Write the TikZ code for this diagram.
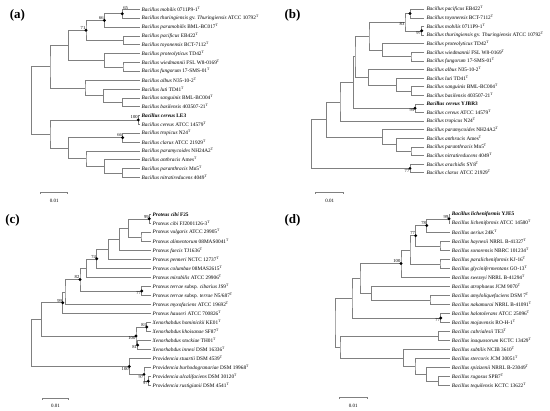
\documentclass[tikz,border=0pt]{standalone}
\usepackage{fontspec}
\setmainfont{Liberation Serif}
\usepackage{tikz}

\begin{document}
\begin{tikzpicture}[
    x=1pt, y=-1pt,
    branch/.style={draw=black!50, line width=0.5pt},
    leaf/.style={anchor=west, inner xsep=2pt, inner ysep=0pt, font=\fontsize{5.3}{6}\selectfont},
    boot/.style={anchor=south east, inner sep=0.5pt, font=\fontsize{4.6}{5}\selectfont},
    bootlow/.style={anchor=north east, inner sep=0.5pt, font=\fontsize{4.6}{5}\selectfont},
    support/.style={fill=black},
    panel/.style={font=\fontsize{13}{15}\selectfont\bfseries},
    scaletext/.style={font=\fontsize{5}{6}\selectfont}
]
\useasboundingbox (0,0) rectangle (550,411);

% Panel (a)
\node[panel] (pa) at (17.5,15) {(a)};
\node[leaf] (a1) at (139.5,9.30) {\textit{Bacillus mobilis} 0711P9-1\textsuperscript{T}};
\node[leaf] (a2) at (139.5,18.15) {\textit{Bacillus thuringiensis} gv. \textit{Thuringiensis} ATCC 10792\textsuperscript{T}};
\node[leaf] (a3) at (139.5,27.00) {\textit{Bacillus paramobilis} BML-BC017\textsuperscript{T}};
\node[leaf] (a4) at (139.5,35.85) {\textit{Bacillus pacificus} EB422\textsuperscript{T}};
\node[leaf] (a5) at (139.5,44.70) {\textit{Bacillus toyonensis} BCT-7112\textsuperscript{T}};
\node[leaf] (a6) at (139.5,53.55) {\textit{Bacillus proteolyticus} TD42\textsuperscript{T}};
\node[leaf] (a7) at (139.5,62.40) {\textit{Bacillus wiedmannii} FSL W8-0169\textsuperscript{T}};
\node[leaf] (a8) at (139.5,71.25) {\textit{Bacillus fungorum} 17-SMS-01\textsuperscript{T}};
\node[leaf] (a9) at (139.5,80.10) {\textit{Bacillus albus} N35-10-2\textsuperscript{T}};
\node[leaf] (a10) at (139.5,88.95) {\textit{Bacillus luti} TD41\textsuperscript{T}};
\node[leaf] (a11) at (139.5,97.80) {\textit{Bacillus sanguinis} BML-BC004\textsuperscript{T}};
\node[leaf] (a12) at (139.5,106.65) {\textit{Bacillus basilensis} 403507-21\textsuperscript{T}};
\node[leaf] (a13) at (139.5,115.50) {\textbf{\textit{Bacillus cereus} LE3}};
\node[leaf] (a14) at (139.5,124.35) {\textit{Bacillus cereus} ATCC 14579\textsuperscript{T}};
\node[leaf] (a15) at (139.5,133.20) {\textit{Bacillus tropicus} N24\textsuperscript{T}};
\node[leaf] (a16) at (139.5,142.05) {\textit{Bacillus clarus} ATCC 21929\textsuperscript{T}};
\node[leaf] (a17) at (139.5,150.90) {\textit{Bacillus paramycoides} NH24A2\textsuperscript{T}};
\node[leaf] (a18) at (139.5,159.75) {\textit{Bacillus anthracis} Ames\textsuperscript{T}};
\node[leaf] (a19) at (139.5,168.60) {\textit{Bacillus paranthracis} Mn5\textsuperscript{T}};
\node[leaf] (a20) at (139.5,177.45) {\textit{Bacillus nitratireducens} 4049\textsuperscript{T}};

\coordinate (aN1) at (122.3,13.73);
\coordinate (aN2) at (104.3,20.36);
\coordinate (aN3) at (123.3,40.28);
\coordinate (aN4) at (86,30.32);
\coordinate (aN5) at (123,66.83);
\coordinate (aN6) at (104.3,60.19);
\coordinate (aN7) at (68.3,45.26);
\coordinate (aN8) at (122.7,102.23);
\coordinate (aN9) at (103.3,95.59);
\coordinate (aN10) at (85,87.85);
\coordinate (aN11) at (50,66.56);
\coordinate (aN12) at (138.3,119.93);
\coordinate (aN13) at (122.7,137.63);
\coordinate (aN14) at (122.7,173.03);
\coordinate (aN15) at (104.3,166.39);
\coordinate (aN16) at (86,158.65);
\coordinate (aN17) at (68.3,148.14);
\coordinate (aN18) at (50,134.04);
\coordinate (aN19) at (31.7,100.3);

\draw[branch] (a1.west) -| (aN1) |- (a2.west);
\draw[branch] (aN1) -| (aN2) |- (a3.west);
\draw[branch] (a4.west) -| (aN3) |- (a5.west);
\draw[branch] (aN2) -| (aN4) |- (aN3);
\draw[branch] (a7.west) -| (aN5) |- (a8.west);
\draw[branch] (a6.west) -| (aN6) |- (aN5);
\draw[branch] (aN4) -| (aN7) |- (aN6);
\draw[branch] (a11.west) -| (aN8) |- (a12.west);
\draw[branch] (a10.west) -| (aN9) |- (aN8);
\draw[branch] (a9.west) -| (aN10) |- (aN9);
\draw[branch] (aN7) -| (aN11) |- (aN10);
\draw[branch] (a13.west) -| (aN12) |- (a14.west);
\draw[branch] (a15.west) -| (aN13) |- (a16.west);
\draw[branch] (a19.west) -| (aN14) |- (a20.west);
\draw[branch] (a18.west) -| (aN15) |- (aN14);
\draw[branch] (a17.west) -| (aN16) |- (aN15);
\draw[branch] (aN13) -| (aN17) |- (aN16);
\draw[branch] (aN12) -| (aN18) |- (aN17);
\draw[branch] (aN11) -| (aN19) |- (aN18);

\foreach \n in {aN1,aN2,aN4,aN12,aN13}
    \fill[support] (\n) circle (1.6pt);
\node[boot, anchor=south west] (aS1) at ([xshift=0.3pt,yshift=3.4pt]aN1) {65};
\node[boot] (aS2) at (aN2) {66};
\node[boot] (aS3) at (aN4) {71};
\node[boot] (aS4) at ([yshift=1pt]aN12) {100};
\node[boot] (aS5) at (aN13) {66};

\coordinate (asL) at (40.7,192.7);
\coordinate (asR) at (67.7,192.7);
\draw[branch] ([yshift=-1.5pt]asL) -- (asL) -- (asR) -- ([yshift=-1.5pt]asR);
\node[scaletext] (ast) at (54.2,200.5) {0.01};

% Panel (b)
\node[panel] (pb) at (292.5,15) {(b)};
\node[leaf] (b1) at (424.3,9.3) {\textit{Bacillus pacificus} EB422\textsuperscript{T}};
\node[leaf] (b2) at (424.3,17.9) {\textit{Bacillus toyonensis} BCT-7112\textsuperscript{T}};
\node[leaf] (b3) at (424.3,26.5) {\textit{Bacillus mobilis} 0711P9-1\textsuperscript{T}};
\node[leaf] (b4) at (424.3,35.1) {\textit{Bacillus thuringiensis} gv. \textit{Thuringiensis} ATCC 10792\textsuperscript{T}};
\node[leaf] (b5) at (424.3,43.7) {\textit{Bacillus proteolyticus} TD42\textsuperscript{T}};
\node[leaf] (b6) at (424.3,52.3) {\textit{Bacillus wiedmannii} FSL W8-0169\textsuperscript{T}};
\node[leaf] (b7) at (424.3,60.9) {\textit{Bacillus fungorum} 17-SMS-01\textsuperscript{T}};
\node[leaf] (b8) at (424.3,69.5) {\textit{Bacillus albus} N35-10-2\textsuperscript{T}};
\node[leaf] (b9) at (424.3,78.1) {\textit{Bacillus luti} TD41\textsuperscript{T}};
\node[leaf] (b10) at (424.3,86.7) {\textit{Bacillus sanguinis} BML-BC004\textsuperscript{T}};
\node[leaf] (b11) at (424.3,95.3) {\textit{Bacillus basilensis} 403507-21\textsuperscript{T}};
\node[leaf] (b12) at (424.3,103.9) {\textbf{\textit{Bacillus cereus} YJBR3}};
\node[leaf] (b13) at (424.3,112.5) {\textit{Bacillus cereus} ATCC 14579\textsuperscript{T}};
\node[leaf] (b14) at (424.3,121.1) {\textit{Bacillus tropicus} N24\textsuperscript{T}};
\node[leaf] (b15) at (424.3,129.7) {\textit{Bacillus paramycoides} NH24A2\textsuperscript{T}};
\node[leaf] (b16) at (424.3,138.3) {\textit{Bacillus anthracis} Ames\textsuperscript{T}};
\node[leaf] (b17) at (424.3,146.9) {\textit{Bacillus paranthracis} Mn5\textsuperscript{T}};
\node[leaf] (b18) at (424.3,155.5) {\textit{Bacillus nitratireducens} 4049\textsuperscript{T}};
\node[leaf] (b19) at (424.3,164.1) {\textit{Bacillus arachidis} SY8\textsuperscript{T}};
\node[leaf] (b20) at (424.3,172.7) {\textit{Bacillus clarus} ATCC 21929\textsuperscript{T}};

\coordinate (bN1) at (410,13.6);
\coordinate (bN2) at (421.7,30.8);
\coordinate (bN3) at (405,22.2);
\coordinate (bN4) at (411,56.6);
\coordinate (bN5) at (382.3,50.15);
\coordinate (bN6) at (369,36.2);
\coordinate (bN7) at (411.7,91.0);
\coordinate (bN8) at (396.7,84.85);
\coordinate (bN9) at (368.3,77.18);
\coordinate (bN10) at (415,108.2);
\coordinate (bN11) at (355,56.7);
\coordinate (bN12) at (353.3,82.45);
\coordinate (bN13) at (340,101.8);
\coordinate (bN14) at (411,151.2);
\coordinate (bN15) at (396.7,144.75);
\coordinate (bN16) at (382.3,137.2);
\coordinate (bN17) at (326.7,119.5);
\coordinate (bN18) at (410,168.4);
\coordinate (bN19) at (311.7,143.95);

\draw[branch] (b1.west) -| (bN1) |- (b2.west);
\draw[branch] (b3.west) -| (bN2) |- (b4.west);
\draw[branch] (bN1) -| (bN3) |- (bN2);
\draw[branch] (b6.west) -| (bN4) |- (b7.west);
\draw[branch] (b5.west) -| (bN5) |- (bN4);
\draw[branch] (bN3) -| (bN6) |- (bN5);
\draw[branch] (b10.west) -| (bN7) |- (b11.west);
\draw[branch] (b9.west) -| (bN8) |- (bN7);
\draw[branch] (b8.west) -| (bN9) |- (bN8);
\draw[branch] (b12.west) -| (bN10) |- (b13.west);
\draw[branch] (bN6) -| (bN11) |- (bN9);
\draw[branch] (bN11) -| (bN12) |- (bN10);
\draw[branch] (bN12) -| (bN13) |- (b14.west);
\draw[branch] (b17.west) -| (bN14) |- (b18.west);
\draw[branch] (b16.west) -| (bN15) |- (bN14);
\draw[branch] (b15.west) -| (bN16) |- (bN15);
\draw[branch] (bN13) -| (bN17) |- (bN16);
\draw[branch] (b19.west) -| (bN18) |- (b20.west);
\draw[branch] (bN17) -| (bN19) |- (bN18);

\foreach \n in {bN1,bN2,bN10,bN18}
    \fill[support] (\n) circle (1.6pt);
\node[bootlow] (bS1) at (bN3) {83};
\node[bootlow] (bS2) at (bN2) {97};
\node[bootlow] (bS3) at (bN10) {99};
\node[bootlow] (bS4) at (bN18) {77};

\coordinate (bsL) at (315.7,192.3);
\coordinate (bsR) at (343.7,192.3);
\draw[branch] ([yshift=-1.5pt]bsL) -- (bsL) -- (bsR) -- ([yshift=-1.5pt]bsR);
\node[scaletext] (bst) at (329.7,200.5) {0.01};

% Panel (c)
\node[panel] (pc) at (12.5,220) {(c)};
\node[leaf] (c1) at (150.5,214.3) {\textbf{\textit{Proteus cibi} F25}};
\node[leaf] (c2) at (150.5,223.3) {\textit{Proteus cibi} FJ2001126-3\textsuperscript{T}};
\node[leaf] (c3) at (150.5,232.3) {\textit{Proteus vulgaris} ATCC 29905\textsuperscript{T}};
\node[leaf] (c4) at (150.5,241.4) {\textit{Proteus alimentorum} 08MAS0041\textsuperscript{T}};
\node[leaf] (c5) at (150.5,250.4) {\textit{Proteus faecis} TJ1636\textsuperscript{T}};
\node[leaf] (c6) at (150.5,259.4) {\textit{Proteus penneri} NCTC 12737\textsuperscript{T}};
\node[leaf] (c7) at (150.5,268.4) {\textit{Proteus columbae} 08MAS2615\textsuperscript{T}};
\node[leaf] (c8) at (150.5,277.4) {\textit{Proteus mirabilis} ATCC 29906\textsuperscript{T}};
\node[leaf] (c9) at (150.5,286.5) {\textit{Proteus terrae} subsp. \textit{cibarius} JS9\textsuperscript{T}};
\node[leaf] (c10) at (150.5,295.5) {\textit{Proteus terrae} subsp. \textit{terrae} N5/687\textsuperscript{T}};
\node[leaf] (c11) at (150.5,304.5) {\textit{Proteus myxofaciens} ATCC 19692\textsuperscript{T}};
\node[leaf] (c12) at (150.5,313.5) {\textit{Proteus hauseri} ATCC 700826\textsuperscript{T}};
\node[leaf] (c13) at (150.5,322.5) {\textit{Xenorhabdus hominickii} KE01\textsuperscript{T}};
\node[leaf] (c14) at (150.5,331.6) {\textit{Xenorhabdus khoisanae} SF87\textsuperscript{T}};
\node[leaf] (c15) at (150.5,340.6) {\textit{Xenorhabdus stockiae} TH01\textsuperscript{T}};
\node[leaf] (c16) at (150.5,349.6) {\textit{Xenorhabdus innesi} DSM 16336\textsuperscript{T}};
\node[leaf] (c17) at (150.5,358.6) {\textit{Providencia stuartii} DSM 4539\textsuperscript{T}};
\node[leaf] (c18) at (150.5,367.6) {\textit{Providencia burhodogranariae} DSM 19968\textsuperscript{T}};
\node[leaf] (c19) at (150.5,376.7) {\textit{Providencia alcalifaciens} DSM 30120\textsuperscript{T}};
\node[leaf] (c20) at (150.5,385.7) {\textit{Providencia rustigianii} DSM 4541\textsuperscript{T}};

\coordinate (cN1) at (149.3,218.8);
\coordinate (cN2) at (141,236.85);
\coordinate (cN3) at (128.3,227.8);
\coordinate (cN4) at (119.3,239.1);
\coordinate (cN5) at (108.3,249.25);
\coordinate (cN6) at (96.7,258.8);
\coordinate (cN7) at (86.7,268.1);
\coordinate (cN8) at (141.7,291.0);
\coordinate (cN9) at (80,279.55);
\coordinate (cN10) at (65,292.0);
\coordinate (cN11) at (62.7,302.75);
\coordinate (cN12) at (146.7,327.05);
\coordinate (cN13) at (137.7,345.1);
\coordinate (cN14) at (136,336.1);
\coordinate (cN15) at (41.7,319.4);
\coordinate (cN16) at (148.3,381.2);
\coordinate (cN17) at (144,374.4);
\coordinate (cN18) at (129.3,366.5);
\coordinate (cN19) at (31.7,342.95);

\draw[branch] (c1.west) -| (cN1) |- (c2.west);
\draw[branch] (c3.west) -| (cN2) |- (c4.west);
\draw[branch] (cN1) -| (cN3) |- (cN2);
\draw[branch] (cN3) -| (cN4) |- (c5.west);
\draw[branch] (cN4) -| (cN5) |- (c6.west);
\draw[branch] (cN5) -| (cN6) |- (c7.west);
\draw[branch] (cN6) -| (cN7) |- (c8.west);
\draw[branch] (c9.west) -| (cN8) |- (c10.west);
\draw[branch] (cN7) -| (cN9) |- (cN8);
\draw[branch] (cN9) -| (cN10) |- (c11.west);
\draw[branch] (cN10) -| (cN11) |- (c12.west);
\draw[branch] (c13.west) -| (cN12) |- (c14.west);
\draw[branch] (c15.west) -| (cN13) |- (c16.west);
\draw[branch] (cN12) -| (cN14) |- (cN13);
\draw[branch] (cN11) -| (cN15) |- (cN14);
\draw[branch] (c19.west) -| (cN16) |- (c20.west);
\draw[branch] (c18.west) -| (cN17) |- (cN16);
\draw[branch] (c17.west) -| (cN18) |- (cN17);
\draw[branch] (cN15) -| (cN19) |- (cN18);

\foreach \n in {cN1,cN6,cN8,cN9,cN11,cN12,cN13,cN14,cN16,cN17,cN18}
    \fill[support] (\n) circle (1.6pt);
\node[boot] (cS1) at (cN1) {99};
\node[boot] (cS2) at (cN6) {74};
\node[bootlow] (cS3) at (cN8) {77};
\node[boot] (cS4) at (cN9) {82};
\node[boot] (cS5) at (cN11) {99};
\node[boot] (cS6) at (cN12) {83};
\node[bootlow] (cS7) at (cN13) {81};
\node[bootlow] (cS8) at (cN14) {100};
\node[bootlow] (cS9) at (cN16) {97};
\node[bootlow] (cS10) at (cN17) {97};
\node[bootlow] (cS11) at (cN18) {100};

\coordinate (csL) at (42.7,398.3);
\coordinate (csR) at (68.3,398.3);
\draw[branch] ([yshift=-1.5pt]csL) -- (csL) -- (csR) -- ([yshift=-1.5pt]csR);
\node[scaletext] (cst) at (55.5,406) {0.01};

% Panel (d)
\node[panel] (pd) at (292.5,220) {(d)};
\node[leaf] (d1) at (449.7,214.3) {\textbf{\textit{Bacillus licheniformis} YJE5}};
\node[leaf] (d2) at (449.7,223.3) {\textit{Bacillus licheniformis} ATCC 14580\textsuperscript{T}};
\node[leaf] (d3) at (449.7,232.3) {\textit{Bacillus aerius} 24K\textsuperscript{T}};
\node[leaf] (d4) at (449.7,241.4) {\textit{Bacillus haynesii} NRRL B-41327\textsuperscript{T}};
\node[leaf] (d5) at (449.7,250.4) {\textit{Bacillus sonorensis} NBRC 101234\textsuperscript{T}};
\node[leaf] (d6) at (449.7,259.4) {\textit{Bacillus paralicheniformis} KJ-16\textsuperscript{T}};
\node[leaf] (d7) at (449.7,268.4) {\textit{Bacillus glycinifermentans} GO-13\textsuperscript{T}};
\node[leaf] (d8) at (449.7,277.4) {\textit{Bacillus swezeyi} NRRL B-41294\textsuperscript{T}};
\node[leaf] (d9) at (449.7,286.5) {\textit{Bacillus atrophaeus} JCM 9070\textsuperscript{T}};
\node[leaf] (d10) at (449.7,295.5) {\textit{Bacillus amyloliquefaciens} DSM 7\textsuperscript{T}};
\node[leaf] (d11) at (449.7,304.5) {\textit{Bacillus nakamurai} NRRL B-41091\textsuperscript{T}};
\node[leaf] (d12) at (449.7,313.5) {\textit{Bacillus halotolerans} ATCC 25096\textsuperscript{T}};
\node[leaf] (d13) at (449.7,322.5) {\textit{Bacillus mojavensis} RO-H-1\textsuperscript{T}};
\node[leaf] (d14) at (449.7,331.6) {\textit{Bacillus cabrialesii} TE3\textsuperscript{T}};
\node[leaf] (d15) at (449.7,340.6) {\textit{Bacillus inaquosorum} KCTC 13429\textsuperscript{T}};
\node[leaf] (d16) at (449.7,349.6) {\textit{Bacillus subtilis} NCIB 3610\textsuperscript{T}};
\node[leaf] (d17) at (449.7,358.6) {\textit{Bacillus stercoris} JCM 30051\textsuperscript{T}};
\node[leaf] (d18) at (449.7,367.6) {\textit{Bacillus spizizenii} NRRL B-23049\textsuperscript{T}};
\node[leaf] (d19) at (449.7,376.7) {\textit{Bacillus rugosus} SPB7\textsuperscript{T}};
\node[leaf] (d20) at (449.7,385.7) {\textit{Bacillus tequilensis} KCTC 13622\textsuperscript{T}};

\coordinate (dN1) at (449,218.8);
\coordinate (dN2) at (426.7,225.55);
\coordinate (dN3) at (440,245.9);
\coordinate (dN4) at (415.7,235.7);
\coordinate (dN5) at (440,263.9);
\coordinate (dN6) at (410,249.8);
\coordinate (dN7) at (401,263.6);
\coordinate (dN8) at (430,300.0);
\coordinate (dN9) at (371.7,293.25);
\coordinate (dN10) at (360,278.4);
\coordinate (dN11) at (440.7,318.0);
\coordinate (dN12) at (352,298.2);
\coordinate (dN13) at (438.3,336.1);
\coordinate (dN14) at (438.3,381.2);
\coordinate (dN15) at (426.7,374.4);
\coordinate (dN16) at (415,366.5);
\coordinate (dN17) at (403.3,358.05);
\coordinate (dN18) at (340,347.1);
\coordinate (dN19) at (335,322.6);

\draw[branch] (d1.west) -| (dN1) |- (d2.west);
\draw[branch] (dN1) -| (dN2) |- (d3.west);
\draw[branch] (d4.west) -| (dN3) |- (d5.west);
\draw[branch] (dN2) -| (dN4) |- (dN3);
\draw[branch] (d6.west) -| (dN5) |- (d7.west);
\draw[branch] (dN4) -| (dN6) |- (dN5);
\draw[branch] (dN6) -| (dN7) |- (d8.west);
\draw[branch] (d10.west) -| (dN8) |- (d11.west);
\draw[branch] (d9.west) -| (dN9) |- (dN8);
\draw[branch] (dN7) -| (dN10) |- (dN9);
\draw[branch] (d12.west) -| (dN11) |- (d13.west);
\draw[branch] (dN10) -| (dN12) |- (dN11);
\draw[branch] (d14.west) -| (dN13) |- (d15.west);
\draw[branch] (d19.west) -| (dN14) |- (d20.west);
\draw[branch] (d18.west) -| (dN15) |- (dN14);
\draw[branch] (d17.west) -| (dN16) |- (dN15);
\draw[branch] (d16.west) -| (dN17) |- (dN16);
\draw[branch] (dN13) -| (dN18) |- (dN17);
\draw[branch] (dN12) -| (dN19) |- (dN18);

\foreach \n in {dN1,dN2,dN4,dN7,dN11}
    \fill[support] (\n) circle (1.6pt);
\node[boot] (dS1) at (dN1) {99};
\node[boot] (dS2) at (dN2) {78};
\node[boot] (dS3) at (dN4) {77};
\node[boot] (dS4) at (dN7) {100};
\node[bootlow] (dS5) at (dN11) {77};

\coordinate (dsL) at (339.3,397.7);
\coordinate (dsR) at (367.3,397.7);
\draw[branch] ([yshift=-1.5pt]dsL) -- (dsL) -- (dsR) -- ([yshift=-1.5pt]dsR);
\node[scaletext] (dst) at (353.3,405.7) {0.01};

\end{tikzpicture}
\end{document}
